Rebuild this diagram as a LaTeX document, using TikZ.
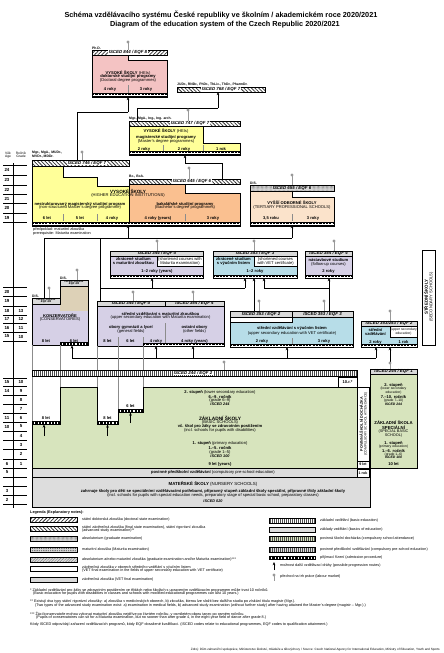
\documentclass[tikz,border=0pt]{standalone}
\usepackage{fontspec}
\setmainfont{Liberation Sans}
\usetikzlibrary{patterns,patterns.meta,arrows.meta}
\newcommand{\myfs}[1]{\fontsize{#1}{#1}\selectfont}
\definecolor{cpink}{HTML}{F4C3C3}
\definecolor{cyel}{HTML}{FFFF99}
\definecolor{corange}{HTML}{FAC090}
\definecolor{cbeige}{HTML}{FBE3CB}
\definecolor{clav}{HTML}{D6D0E6}
\definecolor{cblue}{HTML}{B7DDE8}
\definecolor{ctan}{HTML}{DDD1B7}
\definecolor{cgreen}{HTML}{D7E4BD}
\definecolor{cgrey}{HTML}{DDDDDD}
\definecolor{chdr}{HTML}{D9D9D9}
\definecolor{cpin}{HTML}{999999}
\tikzset{
  tx/.style={inner sep=0pt, align=center, font=\myfs{4.1}},
  tb/.style={inner sep=0pt, align=center, font=\myfs{4.1}\bfseries},
  hb/.style={inner sep=0.4pt, font=\myfs{4.4}\bfseries\itshape},
  lg/.style={inner sep=0pt, anchor=west, align=left, font=\myfs{3.7}},
  fn/.style={inner sep=0pt, anchor=west, align=left, font=\myfs{3.75}},
  ol/.style={draw=black, line width=0.45pt},
  arr/.style={draw=black, line width=0.5pt, -{Stealth[length=3.2pt,width=2.6pt]}},
  conn/.style={draw=black, line width=0.45pt},
  gl/.style={draw=black!45, line width=0.35pt},
  hatA/.style={pattern={Lines[angle=45,distance=2.6pt,line width=0.75pt]}, pattern color=black!80},
  hatB/.style={pattern={Lines[angle=-45,distance=2.6pt,line width=0.75pt]}, pattern color=black!80},
  vstr/.style={pattern={Lines[angle=90,distance=2pt,line width=0.5pt]}, pattern color=black!70},
  dotp/.style={pattern={Dots[distance=1.3pt,radius=0.3pt]}, pattern color=black!70},
  dotq/.style={pattern={Dots[distance=1.8pt,radius=0.45pt]}, pattern color=black!80},
  crs/.style={pattern={Lines[angle=45,distance=2pt,line width=0.3pt]}, pattern color=black!60},
  axl/.style={inner sep=0pt, font=\myfs{4.4}\bfseries},
}
\newcommand{\pin}[3]{\draw[cpin,line width=0.7pt] (#1,#2) -- (#1,#3); \fill[cpin] (#1,#2) circle (1.7);}
\newcommand{\adm}[3]{\draw[fill=white,line width=0.3pt] ({#1},{#3-1.4}) rectangle ({#2},{#3+1.4}); \draw[line width=1.3pt,dash pattern=on 2.2pt off 1.1pt] ({#1},{#3}) -- ({#2},{#3});}
\newcommand{\pbar}[7]{\fill[white] (#1,#2) rectangle (#3,#4); \fill[#5] (#1,#2) rectangle (#3,#4); \draw[ol] (#1,#2) rectangle (#3,#4); \node[hb,fill=white] at ({#7},{(#2+#4)/2}) {#6};}
\newcommand{\gbar}[6]{\draw[ol,fill=chdr] (#1,#2) rectangle (#3,#4); \node[hb] at ({#6},{(#2+#4)/2}) {#5};}
\begin{document}
\begin{tikzpicture}[x=1pt,y=-1pt]
\useasboundingbox (0,0) rectangle (444,653);
\fill[white] (0,0) rectangle (444,653);

% ---------- title
\node[inner sep=0pt,font=\myfs{7.3}\bfseries] (title1) at (221,15) {Schéma vzdělávacího systému České republiky ve školním / akademickém roce 2020/2021};
\node[inner sep=0pt,font=\myfs{7.3}\bfseries] (title2) at (225,25) {Diagram of the education system of the Czech Republic 2020/2021};

% ---------- axis
\node[tx,font=\myfs{3.3}] (agehd) at (8,155) {Věk\\Age};
\node[tx,font=\myfs{3.3}] (grdhd) at (21,155) {Ročník\\Grade};
\draw[line width=0.5pt] (13,163) -- (13,508);
\foreach \y in {165,175,185,194,203,213,222} \draw[line width=0.4pt] (3,\y) -- (27,\y);
\foreach \a/\y in {24/170,23/180,22/189.5,21/198.5,20/208,19/217.5} \node[axl] at (7,\y) {\a};
\foreach \y in {287,296.5,306,315,323.5,332,341} \draw[line width=0.4pt] (3,\y) -- (27,\y);
\foreach \a/\g/\y in {20//291.7,19//301.2,18/13/310.5,17/12/319.2,16/11/327.7,15/10/336.5} {\node[axl] at (7,\y) {\a}; \node[axl] at (21,\y) {\g};}
\foreach \y in {378,386.5,395,404,413,422,431,440,449.5,459,468,477,486,495,504} \draw[line width=0.4pt] (3,\y) -- (27,\y);
\foreach \a/\g/\y in {15/10/382.2,14/9/390.7,/8/399.5,/7/408.5,11/6/417.5,10/5/426.5,/4/435.5,/3/444.7,/2/454.2,6/1/463.5,5//472.5,//481.5,3//490.5,2//499.5} {\node[axl] at (7,\y) {\a}; \node[axl] at (21,\y) {\g};}

% ---------- Ph.D.
\node[tb,anchor=south west,font=\myfs{3.4}\bfseries] (phdl) at (92,49.6) {Ph.D.};
\fill[cpink] (92,55) -- (128,55) -- (128,60) -- (167,60) -- (167,97) -- (92,97) -- cycle;
\draw[ol] (92,55) -- (92,97) -- (167,97) -- (167,60) -- (128,60) -- (128,55);
\pbar{92}{50}{167}{55}{hatA}{ISCED 844 / EQF 8}{128}
\node[tx] at (128,73) {\textbf{VYSOKÉ ŠKOLY} (HEIs)};
\node[tb] at (128,76.7) {doktorské studijní programy};
\node[tx] at (128,80.4) {(Doctoral degree programmes)};
\draw[gl] (128,85) -- (128,93);
\node[tb] at (110,89.5) {4 roky};
\node[tb] at (146,89.5) {3 roky};
\adm{92}{167}{94.8}
\pin{128}{42}{50}

% ---------- JUDr.
\node[tb,anchor=south west,font=\myfs{3.4}\bfseries] (judl) at (177,86.3) {JUDr., RNDr., PhDr., ThLic., ThDr., PharmDr.};
\pbar{177}{87}{265}{92}{hatB}{ISCED 768 / EQF 7}{221}

% top connectors
\draw[conn] (77,160) -- (77,112) -- (128,112);
\draw[arr] (128,112) -- (128,97);
\draw[conn] (137,121) -- (137,108) -- (218,108);
\draw[arr] (218,108) -- (218,92);

% ---------- follow-up master
\node[tb,anchor=south west,font=\myfs{3.4}\bfseries] (mgrl) at (129,120.5) {Mgr., MgA., Ing., Ing. arch.};
\fill[cyel] (129,126) -- (203,126) -- (203,143) -- (240,143) -- (240,155) -- (129,155) -- cycle;
\draw[ol] (129,126) -- (129,155) -- (240,155) -- (240,143) -- (203,143) -- (203,126);
\pbar{129}{121}{240}{126}{hatB}{ISCED 747 / EQF 7}{190}
\node[tx] at (166,131) {\textbf{VYSOKÉ ŠKOLY} (HEIs)};
\node[tb] at (166,137) {magisterské studijní programy};
\node[tx] at (166,141) {(Master's degree programmes)};
\draw[gl] (163,145) -- (163,152); \draw[gl] (203,145) -- (203,152);
\node[tb] at (144,149) {2 roky};
\node[tb] at (184,149) {2 roky};
\node[tb] at (221,149) {1 rok};
\adm{129}{240}{152.8}
\pin{188}{110}{121}

% bachelor -> master
\draw[conn] (222,179) -- (222,163) -- (185,163);
\draw[arr] (185,163) -- (185,155);

% ---------- long-cycle master
\node[tb,anchor=west,font=\myfs{3.4}\bfseries,align=left] (mudl) at (32,154.5) {Mgr., MgA., MUDr.,\\MVDr., MDDr.};
\fill[cyel] (32,166) -- (63,166) -- (63,177) -- (97,177) -- (97,186) -- (129,186) -- (129,226) -- (32,226) -- cycle;
\draw[ol] (32,166) -- (63,166) -- (63,177) -- (97,177) -- (97,186) -- (129,186) -- (129,226) -- (32,226) -- cycle;
\pbar{32}{160}{129}{166}{hatB}{ISCED 746 / EQF 7}{87}
\pin{82}{152}{160}

% ---------- bachelor
\node[tb,anchor=south west,font=\myfs{3.4}\bfseries] (bcl) at (129,178.5) {Bc., BcA.};
\fill[corange] (129,184) -- (185,184) -- (185,193) -- (240,193) -- (240,226) -- (129,226) -- cycle;
\draw[ol] (129,184) -- (129,226) -- (240,226) -- (240,193) -- (185,193) -- (185,184);
\pbar{129}{179}{240}{184}{hatB}{ISCED 645 / EQF 6}{192}
\pin{189}{168}{179}
\node[tb,font=\myfs{4.6}\bfseries] at (128,191) {VYSOKÉ ŠKOLY};
\node[tx] at (128,195.2) {(HIGHER EDUCATION INSTITUTIONS)};
\node[tb] at (80,204) {nestrukturovaný magisterský studijní program};
\node[tx] at (80,207.8) {(non-structured Master's degree programme)};
\node[tb] at (185,204) {bakalářské studijní programy};
\node[tx] at (185,207.8) {(Bachelor's degree programmes)};
\draw[gl] (63,214) -- (63,221); \draw[gl] (97,214) -- (97,221); \draw[gl] (185,214) -- (185,221);
\node[tb] at (47,218.5) {6 let};
\node[tb] at (80,218.5) {5 let};
\node[tb] at (112,218.5) {4 roky};
\node[tb] at (158,218.5) {4 roky (years)};
\node[tb] at (213,218.5) {3 roky};
\adm{32}{240}{223.5}

% ---------- VOS
\node[tb,anchor=south west,font=\myfs{3.4}\bfseries] (disl) at (250,184.5) {DiS.};
\fill[cbeige] (250,191) -- (292,191) -- (292,197) -- (334,197) -- (334,226) -- (250,226) -- cycle;
\draw[ol] (250,191) -- (250,226) -- (334,226) -- (334,197) -- (292,197) -- (292,191);
\fill[chdr] (250,185) rectangle (334,191); \fill[dotp] (250,185) rectangle (334,191); \draw[ol] (250,185) rectangle (334,191);
\node[hb,fill=chdr] at (292,188) {ISCED 655 / EQF 6};
\pin{292}{175}{185}
\node[tb] at (292,203) {VYŠŠÍ ODBORNÉ ŠKOLY};
\node[tx] at (292,207) {(TERTIARY PROFESSIONAL SCHOOLS)};
\draw[gl] (292,214) -- (292,221);
\node[tb] at (271,218.5) {3,5 roku};
\node[tb] at (313,218.5) {3 roky};
\adm{250}{334}{223.5}

% ---------- prerequisite + connectors to tertiary
\node[fn,font=\myfs{3.8}] (prq1) at (33,229.8) {předpoklad: maturitní zkouška};
\node[fn,font=\myfs{3.8}] (prq2) at (33,233.6) {prerequisite: Maturita examination};
\draw[conn] (44,298) -- (44,238) -- (292,238);
\draw[conn] (100,301) -- (100,238);
\draw[arr] (128,238) -- (128,225);
\draw[arr] (292,238) -- (292,225);

% ---------- box A
\fill[clav] (110,256) -- (157,256) -- (157,266) -- (203,266) -- (203,278) -- (110,278) -- cycle;
\draw[ol] (110,256) -- (110,278) -- (203,278) -- (203,256);
\draw[ol] (157,256) -- (157,266) -- (203,266);
\gbar{110}{251}{203}{256}{ISCED 344 / EQF 4}{157}
\pin{157}{241}{251}
\node[tb] at (133.5,259.3) {zkrácené studium};
\node[tb] at (133.5,263.3) {s maturitní zkouškou};
\node[tx] at (180,259.3) {(shortened courses with};
\node[tx] at (180,263.3) {Maturita examination)};
\node[tb] at (157,271.5) {1–2 roky (years)};
\adm{110}{203}{276.4}

% ---------- box B
\fill[cblue] (213,256) -- (254,256) -- (254,266) -- (297,266) -- (297,278) -- (213,278) -- cycle;
\draw[ol] (213,256) -- (213,278) -- (297,278) -- (297,256);
\draw[ol] (254,256) -- (254,266) -- (297,266);
\gbar{213}{251}{297}{256}{ISCED 353 / EQF 3}{255}
\pin{254}{241}{251}
\node[tb] at (233.5,259.3) {zkrácené studium};
\node[tb] at (233.5,263.3) {s výučním listem};
\node[tx] at (275.5,259.3) {(shortened courses};
\node[tx] at (275.5,263.3) {with VET certificate)};
\node[tb] at (255,271.5) {1–2 roky};
\adm{213}{297}{276.4}

% ---------- box C
\fill[clav] (305,256) rectangle (352,278);
\draw[ol] (305,256) rectangle (352,278);
\gbar{305}{251}{352}{256}{ISCED 354 / EQF 4}{328.5}
\pin{334}{241}{251}
\node[tb] at (328.5,260) {nástavbové studium};
\node[tx] at (328.5,264) {(follow-up courses)};
\node[tb] at (328.5,271.5) {2 roky};
\adm{305}{352}{276.4}

% middle connectors
\draw[conn] (100,288) -- (245,288);
\draw[arr] (152,288) -- (152,278);
\draw[arr] (245,288) -- (245,278);
\draw[arr] (254,311) -- (254,278);
\draw[arr] (329,311) -- (329,278);
\draw[conn] (329,288) -- (264,288);
\draw[arr] (264,288) -- (264,278);

% ---------- secondary schools label
\draw[ol] (422,250) rectangle (435,345);
\node[tb,rotate=90,font=\myfs{4.4}\bfseries] at (425.8,297) {STŘEDNÍ ŠKOLY};
\node[tx,rotate=90] at (431.2,297) {(SECONDARY SCHOOLS)};

% ---------- conservatoire
\node[tb,anchor=south west,font=\myfs{3.4}\bfseries] (disk1) at (60,279.5) {DiS.};
\node[tb,anchor=south west,font=\myfs{3.4}\bfseries] (disk2) at (32,297.5) {DiS.};
\fill[ctan] (60,286.5) rectangle (88,311);
\fill[clav] (32,304.5) rectangle (60,345);
\fill[clav] (60,311) rectangle (88,345);
\draw[ol] (32,304.5) -- (60,304.5) -- (60,286.5) -- (88,286.5) -- (88,345) -- (32,345) -- cycle;
\draw[ol,fill=chdr] (60,280) rectangle (88,286.5);
\node[hb,font=\myfs{2.7}\bfseries\itshape,align=center,inner sep=0pt] at (74,283.2) {ISCED 354/554\\[-0.6pt]EQF 4/6};
\draw[ol,fill=chdr] (32,298) rectangle (60,304.5);
\node[hb,font=\myfs{2.7}\bfseries\itshape,align=center,inner sep=0pt] at (46,301.2) {ISCED 354/554\\[-0.6pt]EQF 4/6};
\pin{77}{270}{280}
\pin{49}{288}{298}
\node[tb] at (60,315.6) {KONZERVATOŘE};
\node[tx] at (60,319.6) {(CONSERVATOIRES)};
\node[tb] at (46,341) {8 let};
\node[tb] at (74,341) {6 let};
\adm{60}{88}{344}

% ---------- box D
\fill[clav] (97,306.5) rectangle (224,346);
\draw[ol] (97,306.5) rectangle (224,346);
\gbar{97}{301}{165}{306.5}{ISCED 344 / EQF 4}{131}
\gbar{165}{301}{224}{306.5}{ISCED 354 / EQF 4}{194.5}
\pin{133}{292}{301}
\pin{193}{292}{301}
\node[tb] at (160.5,313.5) {střední vzdělávání s maturitní zkouškou};
\node[tx] at (160.5,317.5) {(upper secondary education with Maturita examination)};
\node[tb] at (131,327.5) {obory gymnázií a lyceí};
\node[tx] at (131,331.5) {(general fields)};
\node[tb] at (194.5,327.5) {ostatní obory};
\node[tx] at (194.5,331.5) {(other fields)};
\draw[gl] (165,323) -- (165,346);
\draw[gl] (118,337) -- (118,346); \draw[gl] (143,337) -- (143,346);
\node[tb] at (107.5,341.3) {8 let};
\node[tb] at (130.5,341.3) {6 let};
\node[tb] at (156,341.3) {4 roky};
\node[tb] at (194.5,341.3) {4 roky (years)};
\adm{143}{224}{344.5}

% ---------- box E
\fill[cblue] (230,322) -- (292,322) -- (292,317) -- (353,317) -- (353,347) -- (230,347) -- cycle;
\draw[ol] (230,317) -- (230,347) -- (353,347) -- (353,317);
\draw[ol] (230,322) -- (292,322) -- (292,317);
\gbar{230}{311}{292}{317}{ISCED 353 / EQF 2}{261}
\gbar{292}{311}{353}{317}{ISCED 353 / EQF 3}{322.5}
\pin{259}{301}{311}
\pin{324}{301}{311}
\node[tb] at (292,328) {střední vzdělávání s výučním listem};
\node[tx] at (292,333) {(upper secondary education with VET certificate)};
\draw[gl] (292,338) -- (292,346);
\node[tb] at (262,341.5) {2 roky};
\node[tb] at (324,341.5) {3 roky};
\adm{230}{353}{345.4}

% ---------- box F
\fill[cblue] (361,326) -- (390,326) -- (390,337) -- (417,337) -- (417,347) -- (361,347) -- cycle;
\draw[ol] (361,326) -- (361,347) -- (417,347) -- (417,326);
\draw[ol] (390,326) -- (390,337) -- (417,337);
\gbar{361}{321}{417}{326}{ISCED 353/253 / EQF 2}{389}
\pin{390}{311}{321}
\node[tb] at (375.5,330) {střední};
\node[tb] at (375.5,334) {vzdělávání};
\node[tx,font=\myfs{3.4}] at (403.5,330) {(upper secondary};
\node[tx,font=\myfs{3.4}] at (403.5,334) {education)};
\node[tb] at (375.5,342) {2 roky};
\node[tb] at (403.5,342) {1 rok};
\adm{361}{417}{345.5}

% ---------- lower connectors
\draw[conn] (72,358) -- (376,358);
\draw[arr] (72,358) -- (72,345.5);
\draw[arr] (156,358) -- (156,346);
\draw[arr] (193,358) -- (193,346);
\draw[arr] (287,358) -- (287,347);
\draw[arr] (376,358) -- (376,347);
\draw[arr] (390,363) -- (390,347);

% column lines of multi-year programmes
\draw[gl] (32,345) -- (32,424);
\draw[gl] (60,345) -- (60,387);
\draw[gl] (97,346) -- (97,424);
\draw[gl] (118,346) -- (118,412);
\draw[gl] (143,346) -- (143,387);

% ISCED 244 bar
\fill[white] (32,370) rectangle (357,376); \fill[vstr] (32,370) rectangle (357,376); \draw[ol] (32,370) rectangle (357,376);
\node[hb,fill=white] at (193,373) {ISCED 244 / EQF 2};
\pin{224}{362}{370}

% ---------- basic school
\fill[cgreen] (32,424) -- (60,424) -- (60,387) -- (97,387) -- (97,424) -- (118,424) -- (118,412) -- (143,412) -- (143,387) -- (357,387) -- (357,468) -- (32,468) -- cycle;
\draw[ol] (32,424) -- (60,424) -- (60,387) -- (97,387) -- (97,424) -- (118,424) -- (118,412) -- (143,412) -- (143,387) -- (357,387) -- (357,468) -- (32,468) -- cycle;
\draw[ol,fill=white] (338,377) rectangle (357,387);
\node[tb] at (347.5,382) {10.r.*};
\adm{32}{60}{423}
\adm{97}{118}{423}
\adm{118}{143}{411}
\node[tb] at (46,418.5) {8 let};
\node[tb] at (107.5,418.5) {8 let};
\node[tb] at (130.5,406.5) {6 let};
\draw[arr] (44,436) -- (44,424.5);
\draw[arr] (107.5,436) -- (107.5,424.5);
\draw[arr] (130.5,423) -- (130.5,412.5);
\node[tx] at (220,392) {\textbf{2. stupeň} (lower secondary education)};
\node[tb] at (220,396.5) {6.–9. ročník};
\node[tx] at (220,400.5) {(grade 6–9)};
\node[hb,inner sep=0pt,font=\myfs{3.8}\bfseries\itshape] at (220,404.5) {ISCED 244};
\node[tb,font=\myfs{4.8}\bfseries] at (220,418) {ZÁKLADNÍ ŠKOLY};
\node[tx] at (220,422.2) {(BASIC SCHOOLS)};
\node[tb] at (220,426.8) {vč. škol pro žáky se zdravotním postižením};
\node[tx] at (220,430.8) {(incl. schools for pupils with disabilities)};
\node[tx] at (220,443.5) {\textbf{1. stupeň} (primary education)};
\node[tb] at (220,448) {1.–5. ročník};
\node[tx] at (220,452) {(grade 1–5)};
\node[hb,inner sep=0pt,font=\myfs{3.8}\bfseries\itshape] at (220,456) {ISCED 100};
\node[tb] at (220,464.5) {9 let (years)};

% compulsory attendance
\draw[ol,fill=white] (357,387) rectangle (369,461);
\node[tb,rotate=90,font=\myfs{3.7}\bfseries] at (361.3,424) {POVINNÁ ŠKOLNÍ DOCHÁZKA};
\node[tx,rotate=90,font=\myfs{3.3}] at (365.8,424) {(COMPULSORY SCHOOL ATTENDANCE)};
\draw[ol,fill=white] (357,461) rectangle (369,468);
\node[tb,font=\myfs{3.6}\bfseries] at (363,464.5) {9 let};

% pre-school and nursery
\fill[cgrey] (32,468) rectangle (370,507);
\draw[ol] (32,468) rectangle (357,477);
\draw[ol] (32,468) rectangle (370,507);
\draw[line width=0.8pt,fill=white] (357,469) rectangle (369,477);
\node[tb,font=\myfs{3.6}\bfseries] at (363,473) {1 rok};
\node[tx] at (213,472.6) {\textbf{povinné předškolní vzdělávání} (compulsory pre-school education)};
\node[tx,font=\myfs{4.4}] at (213,483.5) {\textbf{MATEŘSKÉ ŠKOLY} (NURSERY SCHOOLS)};
\node[tb] at (213,491.5) {zahrnuje školy pro děti se speciálními vzdělávacími potřebami, přípravný stupeň základní školy speciální, přípravné třídy základní školy};
\node[tx] at (213,495.5) {(incl. schools for pupils with special education needs, preparatory stage of special basic school, preparatory classes)};
\node[hb,inner sep=0pt,font=\myfs{3.8}\bfseries\itshape] at (213,501.5) {ISCED 020};

% ---------- special basic school G
\fill[cgreen] (370,374) rectangle (417,468);
\draw[ol] (370,374) rectangle (417,468);
\gbar{370}{369}{417}{374}{ISCED 244 / EQF 1}{393.5}
\pin{390}{363}{369}
\node[tb] at (393.5,385) {2. stupeň};
\node[tx,font=\myfs{3.4}] at (393.5,388.8) {(lower secondary};
\node[tx,font=\myfs{3.4}] at (393.5,392.2) {education)};
\node[tb] at (393.5,396.5) {7.–10. ročník};
\node[tx,font=\myfs{3.4}] at (393.5,400.5) {(grade 7–10)};
\node[hb,inner sep=0pt,font=\myfs{3.4}\bfseries\itshape] at (393.5,404.3) {ISCED 244};
\node[tb,font=\myfs{4.3}\bfseries] at (393.5,423) {ZÁKLADNÍ ŠKOLA};
\node[tb,font=\myfs{4.3}\bfseries] at (393.5,427.3) {SPECIÁLNÍ};
\node[tx,font=\myfs{3.8}] at (393.5,431.3) {(SPECIAL BASIC};
\node[tx,font=\myfs{3.8}] at (393.5,435.1) {SCHOOL)};
\node[tb] at (393.5,443.3) {1. stupeň};
\node[tx,font=\myfs{3.4}] at (393.5,447) {(primary education)};
\node[tb] at (393.5,450.6) {1.–6. ročník};
\node[tx,font=\myfs{3.4}] at (393.5,454.2) {(grade 1–6)};
\node[hb,inner sep=0pt,font=\myfs{3.4}\bfseries\itshape] at (393.5,457.8) {ISCED 100};
\node[tb] at (393.5,464.5) {10 let};

% ---------- legend
\node[lg,font=\myfs{3.8}\bfseries] (legt) at (30,512.5) {Legenda (Explanatory notes):};
\fill[white] (30,517.5) rectangle (77,522.5); \fill[hatA] (30,517.5) rectangle (77,522.5); \draw[ol] (30,517.5) rectangle (77,522.5);
\node[lg] at (82,520) {státní doktorská zkouška (doctoral state examination)};
\fill[white] (30,526.5) rectangle (77,531.5); \fill[hatB] (30,526.5) rectangle (77,531.5); \draw[ol] (30,526.5) rectangle (77,531.5);
\node[lg] at (82,527.3) {státní závěrečná zkouška (final state examination), státní rigorózní zkouška};
\node[lg] at (82,531) {(advanced study examination)**};
\fill[chdr] (30,536.5) rectangle (77,541.5); \fill[dotp] (30,536.5) rectangle (77,541.5); \draw[ol] (30,536.5) rectangle (77,541.5);
\node[lg] at (82,539) {absolutorium (graduate examination)};
\fill[chdr] (30,547.5) rectangle (77,552.5); \fill[dotq] (30,547.5) rectangle (77,552.5); \draw[ol] (30,547.5) rectangle (77,552.5);
\node[lg] at (82,550) {maturitní zkouška (Maturita examination)};
\fill[chdr] (30,557.5) rectangle (77,562.5); \fill[crs] (30,557.5) rectangle (77,562.5); \draw[ol] (30,557.5) rectangle (77,562.5);
\node[lg] at (82,560) {absolutorium a/nebo maturitní zkouška (graduate examination and/or Maturita examination)***};
\draw[ol,fill=white] (30,566.5) rectangle (77,571.5);
\node[lg] at (82,567.3) {závěrečná zkouška v oborech středního vzdělání s výučním listem};
\node[lg] at (82,571) {(VET final examination in the fields of upper secondary education with VET certificate)};
\draw[ol,fill=chdr] (30,577.5) rectangle (77,582.5);
\node[lg] at (82,580) {závěrečná zkouška (VET final examination)};

\fill[white] (269,518.5) rectangle (315,523.5); \fill[vstr] (269,518.5) rectangle (315,523.5); \draw[ol] (269,518.5) rectangle (315,523.5);
\node[lg] at (320,521) {základní vzdělání (basic education)};
\draw[ol,fill=cgrey] (269,527.5) rectangle (315,532.5);
\node[lg] at (320,530) {základy vzdělání (basics of education)};
\fill[cgreen] (269,536.5) rectangle (315,541.5); \fill[vstr] (269,536.5) rectangle (315,541.5); \draw[ol] (269,536.5) rectangle (315,541.5);
\node[lg] at (320,539) {povinná školní docházka (compulsory school attendance)};
\fill[cgrey] (269,547.5) rectangle (315,552.5); \fill[vstr] (269,547.5) rectangle (315,552.5); \draw[ol] (269,547.5) rectangle (315,552.5);
\node[lg] at (320,550) {povinné předškolní vzdělávání (compulsory pre-school education)};
\adm{269}{315}{558}
\node[lg] at (320,558) {přijímací řízení (admission procedure)};
\draw[arr] (274,570) -- (274,562);
\node[lg] at (280,566) {možnost další vzdělávací dráhy (possible progression routes)};
\pin{274}{575}{581}
\node[lg] at (280,577) {přechod na trh práce (labour market)};

% ---------- footnotes
\node[fn] (fn1a) at (30,590) {* Základní vzdělávání pro žáky se zdravotním postižením ve třídách nebo školách s upraveným vzdělávacím programem může trvat 10 ročníků.};
\node[fn] (fn1b) at (33,594) {(Basic education for pupils with disabilities in classes and schools with modified educational programmes can last 10 years.)};
\node[fn] (fn2a) at (30,602) {** Existují dva typy státní rigorózní zkoušky: a) zkouška v medicínských oborech, b) zkouška, kterou lze složit bez dalšího studia po získání titulu magistr (Mgr.).};
\node[fn] (fn2b) at (35,606) {(Two types of the advanced study examination exist: a) examination in medical fields, b) advanced study examination (without further study) after having attained the Master's degree (magistr – Mgr.).)};
\node[fn] (fn3a) at (30,614) {*** Žáci konzervatoře mohou vykonat maturitní zkoušku nejdříve po čtvrtém ročníku, v osmiletém oboru tanec po osmém ročníku.};
\node[fn] (fn3b) at (36,618) {(Pupils of conservatoires can sit for a Maturita examination, but no sooner than after grade 4, in the eight-year field of dance after grade 8.)};
\node[fn] (fn4) at (30,624.5) {Kódy ISCED odpovídají zařazení vzdělávacích programů, kódy EQF dosažené kvalifikaci. (ISCED codes relate to educational programmes, EQF codes to qualification attainment.)};
\node[inner sep=0pt,anchor=east,font=\myfs{3.1}] (src) at (440,650) {Zdroj: Dům zahraniční spolupráce, Ministerstvo školství, mládeže a tělovýchovy / Source: Czech National Agency for International Education, Ministry of Education, Youth and Sports};
\end{tikzpicture}
\end{document}
